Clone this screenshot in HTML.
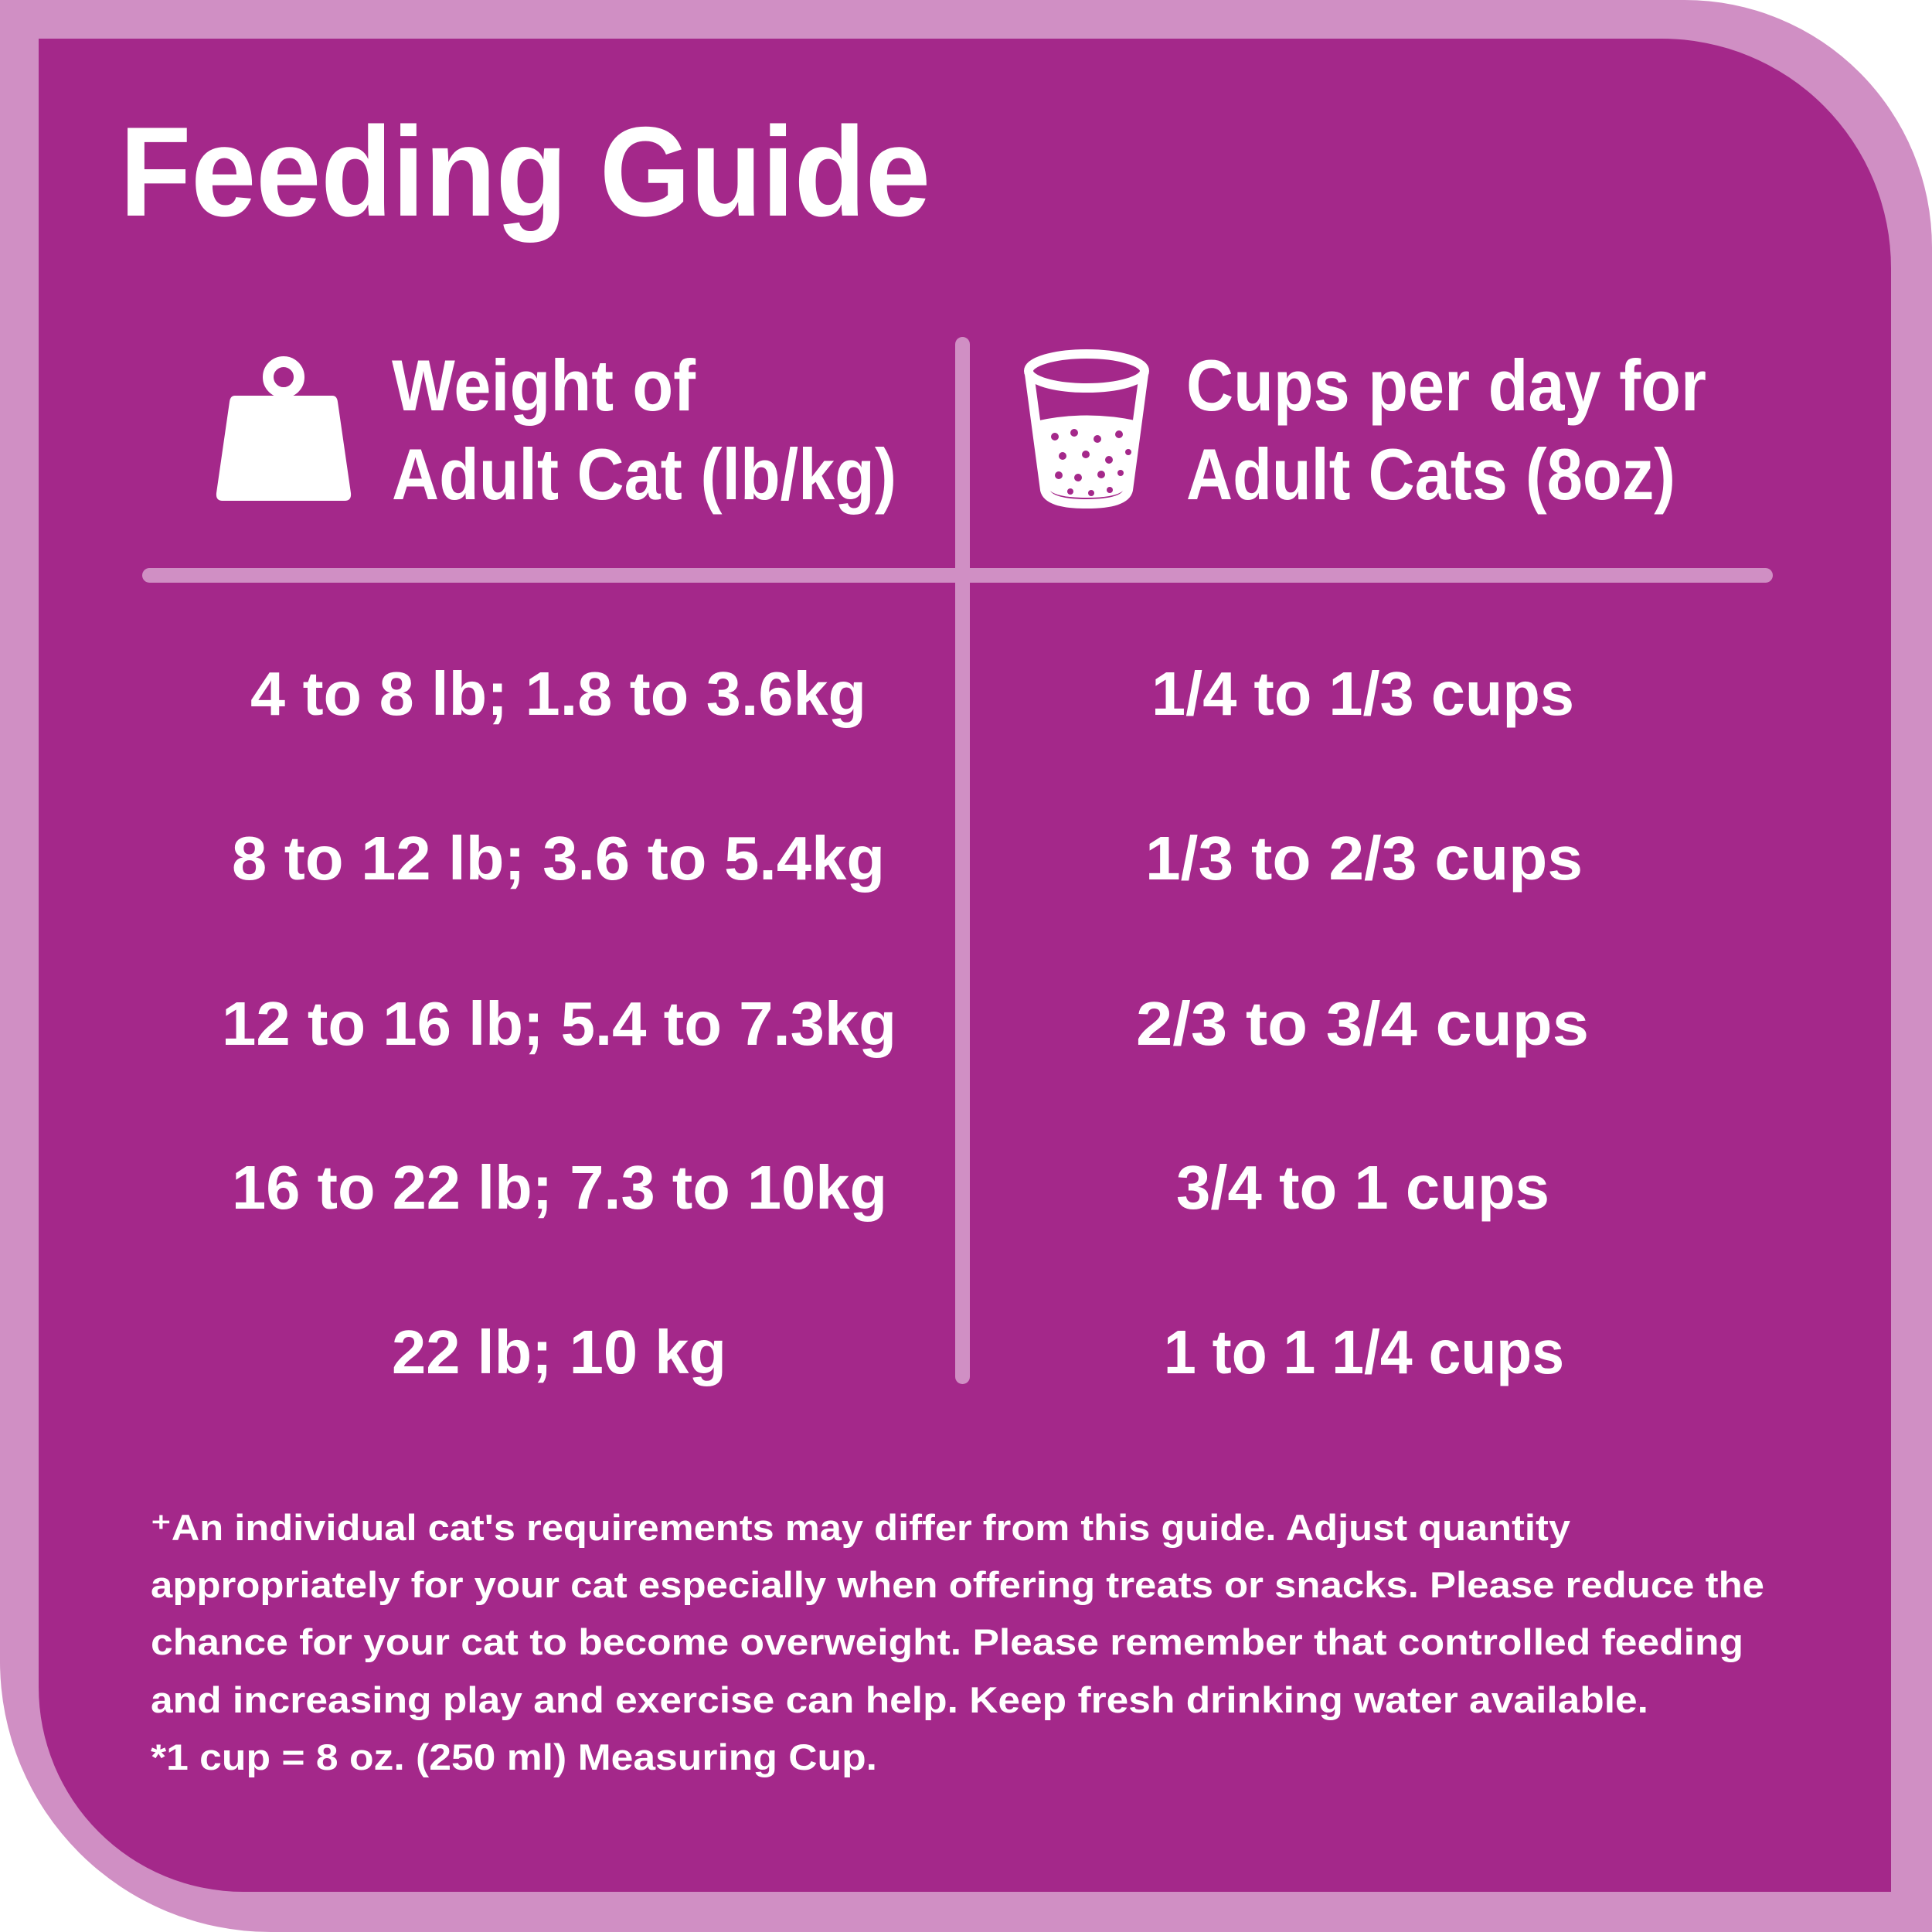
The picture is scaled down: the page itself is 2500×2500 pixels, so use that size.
<!DOCTYPE html>
<html><head><meta charset="utf-8"><style>html,body{margin:0;padding:0;background:#fff}svg{display:block}</style></head>
<body>
<svg width="2500" height="2500" viewBox="0 0 2500 2500" xmlns="http://www.w3.org/2000/svg">
<path d="M0 0 H2180 A320 320 0 0 1 2500 320 V2500 H350 A350 350 0 0 1 0 2150 Z" fill="#d08fc4"/>
<path d="M50 50 H2150 A297 297 0 0 1 2447 347 V2448 H315 A265 265 0 0 1 50 2183 Z" fill="#a4288a"/>
<rect x="1236" y="436" width="19" height="1355" rx="9.5" fill="#d08fc4"/>
<rect x="184" y="735" width="2110" height="19" rx="9.5" fill="#d08fc4"/>
<g fill="#fff" font-family="Liberation Sans, sans-serif" font-weight="bold">
<text x="155" y="279" font-size="165" textLength="1049" lengthAdjust="spacingAndGlyphs">Feeding Guide</text>
<text x="507" y="531" font-size="94" textLength="393" lengthAdjust="spacingAndGlyphs">Weight of</text>
<text x="507" y="646" font-size="94" textLength="653" lengthAdjust="spacingAndGlyphs">Adult Cat (lb/kg)</text>
<text x="1535" y="531" font-size="94" textLength="673" lengthAdjust="spacingAndGlyphs">Cups per day for</text>
<text x="1535" y="646" font-size="94" textLength="633" lengthAdjust="spacingAndGlyphs">Adult Cats (8oz)</text>
<g font-size="80">
<text x="324" y="925" textLength="797" lengthAdjust="spacingAndGlyphs">4 to 8 lb; 1.8 to 3.6kg</text>
<text x="300" y="1138" textLength="845" lengthAdjust="spacingAndGlyphs">8 to 12 lb; 3.6 to 5.4kg</text>
<text x="287" y="1352" textLength="873" lengthAdjust="spacingAndGlyphs">12 to 16 lb; 5.4 to 7.3kg</text>
<text x="300" y="1564" textLength="848" lengthAdjust="spacingAndGlyphs">16 to 22 lb; 7.3 to 10kg</text>
<text x="507" y="1777" textLength="433" lengthAdjust="spacingAndGlyphs">22 lb; 10 kg</text>
<text x="1490" y="925" textLength="547" lengthAdjust="spacingAndGlyphs">1/4 to 1/3 cups</text>
<text x="1482" y="1138" textLength="566" lengthAdjust="spacingAndGlyphs">1/3 to 2/3 cups</text>
<text x="1470" y="1352" textLength="586" lengthAdjust="spacingAndGlyphs">2/3 to 3/4 cups</text>
<text x="1522" y="1564" textLength="483" lengthAdjust="spacingAndGlyphs">3/4 to 1 cups</text>
<text x="1506" y="1777" textLength="518" lengthAdjust="spacingAndGlyphs">1 to 1 1/4 cups</text>
</g>
<g font-size="47">
<text x="195" y="1993" textLength="1837" lengthAdjust="spacingAndGlyphs">⁺An individual cat's requirements may differ from this guide.  Adjust quantity</text>
<text x="195" y="2067" textLength="2088" lengthAdjust="spacingAndGlyphs">appropriately for your cat especially when offering treats or snacks.  Please reduce the</text>
<text x="195" y="2141" textLength="2061" lengthAdjust="spacingAndGlyphs">chance for your cat to become overweight.  Please remember that controlled feeding</text>
<text x="195" y="2216" textLength="1938" lengthAdjust="spacingAndGlyphs">and increasing play and exercise can help.  Keep fresh drinking water available.</text>
<text x="195" y="2290" textLength="940" lengthAdjust="spacingAndGlyphs">*1 cup = 8 oz. (250 ml) Measuring Cup.</text>
</g>
</g>
<!-- weight icon -->
<circle cx="367" cy="488" r="20" fill="none" stroke="#fff" stroke-width="14"/>
<path d="M304 512 H430 Q436 512 437 520 L454 638 Q455 648 446 648 H288 Q279 648 280 638 L297 520 Q298 512 304 512 Z" fill="#fff"/>
<!-- cup icon -->
<g stroke="#fff" fill="none" stroke-width="12">
<ellipse cx="1406" cy="480" rx="75" ry="22"/>
<path d="M1332 484 L1352 634 Q1356 652 1406 652 Q1456 652 1460 634 L1480 484"/>
</g>
<path d="M1340 545 Q1406 530 1474 545 L1457 630 Q1452 644 1406 644 Q1360 644 1355 630 Z" fill="#fff"/>
<g fill="#a4288a">
<circle cx="1365" cy="565" r="5"/><circle cx="1390" cy="560" r="5"/><circle cx="1420" cy="568" r="5"/><circle cx="1448" cy="562" r="5"/>
<circle cx="1375" cy="590" r="5"/><circle cx="1405" cy="588" r="5"/><circle cx="1435" cy="595" r="5"/><circle cx="1460" cy="585" r="4"/>
<circle cx="1370" cy="615" r="5"/><circle cx="1395" cy="618" r="5"/><circle cx="1425" cy="614" r="5"/><circle cx="1450" cy="612" r="4"/>
<circle cx="1385" cy="636" r="4"/><circle cx="1412" cy="638" r="4"/><circle cx="1436" cy="634" r="4"/>
</g>
</svg>
</body></html>
